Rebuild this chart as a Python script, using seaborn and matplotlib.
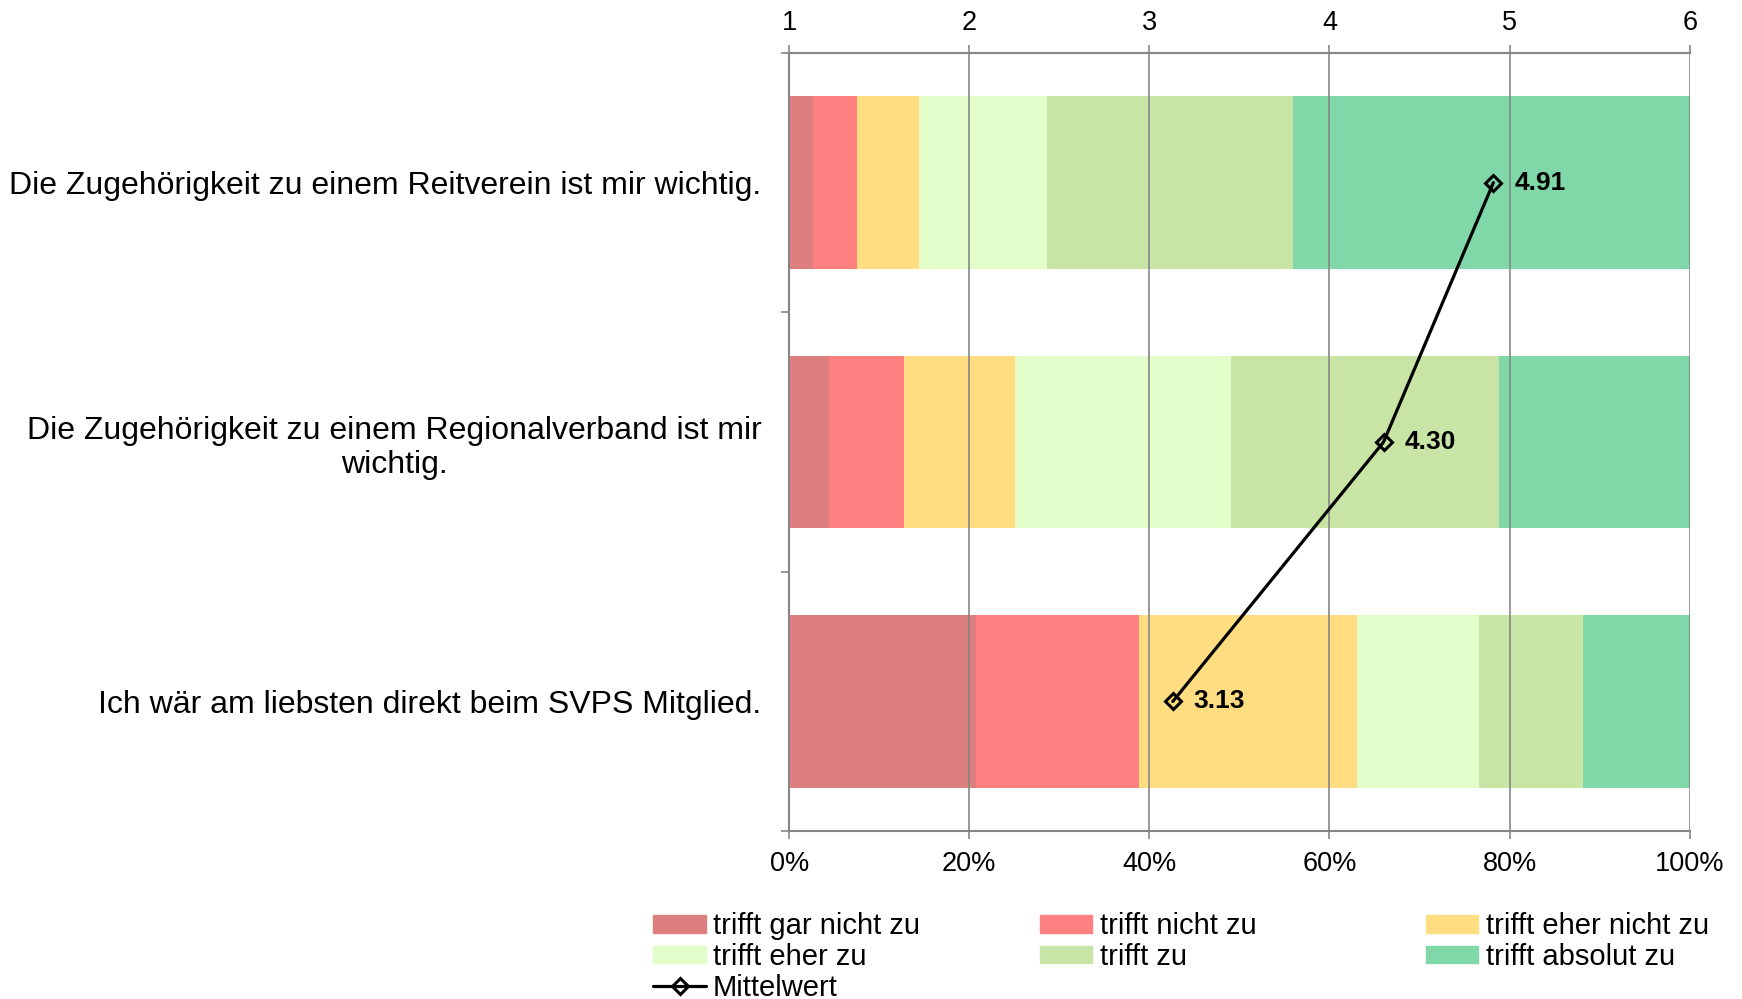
import matplotlib
matplotlib.use("Agg")
import matplotlib.pyplot as plt
import numpy as np
import pandas as pd
import seaborn as sns
from matplotlib.patches import Patch
from matplotlib.lines import Line2D

statements = [
    "Die Zugehörigkeit zu einem Reitverein ist mir wichtig.",
    "Die Zugehörigkeit zu einem Regionalverband ist mir\nwichtig.",
    "Ich wär am liebsten direkt beim SVPS Mitglied.",
]
answers = ["trifft gar nicht zu", "trifft nicht zu", "trifft eher nicht zu",
           "trifft eher zu", "trifft zu", "trifft absolut zu"]
colors = ["#DD7F7F", "#FF8080", "#FFDD80", "#E2FDCA", "#C9E5A6", "#80D7A7"]

# share of answers per statement (in %)
gar_nicht = [2.6, 4.4, 20.7]
nicht = [4.9, 8.3, 18.2]
eher_nicht = [6.9, 12.4, 24.2]
eher = [14.2, 24.0, 13.5]
zu = [27.3, 29.7, 11.5]
absolut = [44.1, 21.2, 11.9]
means = [4.91, 4.30, 3.13]

shares = pd.DataFrame(
    np.array([gar_nicht, nicht, eher_nicht, eher, zu, absolut]).T / 100,
    columns=answers)
cum = shares.cumsum(axis=1)
cum["statement"] = statements

sns.set_style("white")
plt.rcParams["font.family"] = ["Liberation Sans", "DejaVu Sans"]
plt.rcParams["text.color"] = "black"
plt.rcParams["xtick.labelcolor"] = "black"
plt.rcParams["ytick.labelcolor"] = "black"

fig = plt.figure(figsize=(17.42, 9.99), dpi=100)
ax = fig.add_axes([0.453, 0.168, 0.517, 0.779])

# stacked bars: draw cumulative sums from the largest down
for col, c in reversed(list(zip(answers, colors))):
    sns.barplot(data=cum, x=col, y="statement", color=c, orient="h",
                width=0.665, saturation=1, linewidth=0, ax=ax, zorder=1)

ax.set_xlim(0, 1)
ax.set_ylim(2.5, -0.5)
ax.set_xlabel("")
ax.set_ylabel("")
ax.set_xticks(np.linspace(0, 1, 6))
ax.set_xticklabels([f"{int(v)}%" for v in np.linspace(0, 100, 6)])
ax.set_yticks(range(3))
ax.set_yticklabels(statements, multialignment="center")
ax.set_yticks([-0.5, 0.5, 1.5, 2.5], minor=True)
ax.tick_params(axis="y", which="major", length=0, pad=20, labelsize=23)
ax.tick_params(axis="y", which="minor", length=6, color="#868686", width=1.2,
               direction="out", left=True)
ax.tick_params(axis="x", length=6, color="#868686", width=1.2, direction="out",
               bottom=True, labelsize=19.5, pad=8)
ax.set_axisbelow(False)
ax.grid(axis="x", color="#868686", linewidth=1.2)
ax.grid(axis="y", visible=False)
for side in ["left", "bottom", "top"]:
    ax.spines[side].set_visible(True)
    ax.spines[side].set_color("#868686")
    ax.spines[side].set_linewidth(1.5)
ax.spines["right"].set_visible(False)

# mean values on the secondary (top) axis
ax2 = ax.twiny()
ax2.set_xlim(1, 6)
ax2.set_xticks(range(1, 7))
ax2.tick_params(axis="x", length=6, color="#868686", width=1.2, direction="out",
                top=True, labelsize=19.5, pad=6)
for side in ["left", "bottom", "right"]:
    ax2.spines[side].set_visible(False)
ax2.spines["top"].set_color("#868686")
ax2.spines["top"].set_linewidth(1.5)
ypos = np.arange(len(means))
ax2.plot(means, ypos, color="black", linewidth=2.3, marker="D", markersize=8.5,
         markerfacecolor="none", markeredgecolor="black", markeredgewidth=2.2)
for m, y in zip(means, ypos):
    ax2.annotate(f"{m:.2f}", (m, y), xytext=(15, 0), textcoords="offset points",
                 ha="left", va="center", fontsize=19, fontweight="bold")

# legend: three columns of equal width, filled row by row
handles = [Patch(color=c, label=a) for a, c in zip(answers, colors)]
mean_handle = Line2D([], [], color="black", linewidth=2.3, marker="D",
                     markersize=8, markerfacecolor="none",
                     markeredgewidth=2.2, label="Mittelwert")
columns = [[handles[0], handles[3], mean_handle],
           [handles[1], handles[4]],
           [handles[2], handles[5]]]
for x0, col_handles in zip([0.375, 0.597, 0.8185], columns):
    fig.legend(handles=col_handles, loc="upper left",
               bbox_to_anchor=(x0, 0.087), frameon=False, fontsize=21,
               handlelength=1.8, handleheight=0.55, handletextpad=0.25,
               labelspacing=0.1, borderpad=0, borderaxespad=0)

fig.savefig("out.png", dpi=100)
